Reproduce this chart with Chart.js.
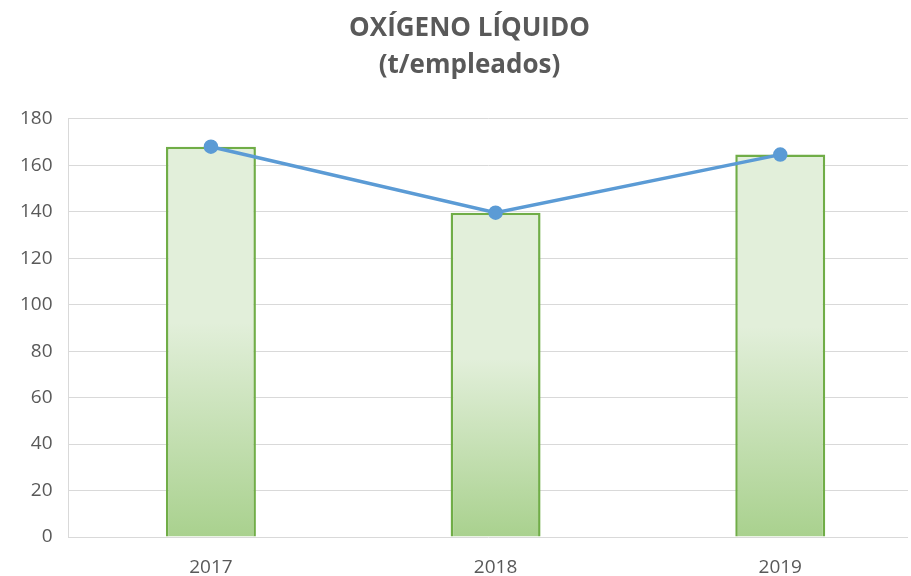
<!DOCTYPE html>
<html>
<head>
<meta charset="utf-8">
<script src="https://cdn.jsdelivr.net/npm/chart.js@4"></script>
<style>
    html, body { margin: 0; padding: 0; background: #fff; }
    #wrap { width: 911px; height: 576px; }
</style>
</head>
<body>
<div id="wrap"><canvas id="chart" width="911" height="576"></canvas></div>
<script>
const years = ['2017', '2018', '2019'];
const barValues = [168, 139.6, 164.6];
const lineValues = [168, 139.6, 164.6];
const yTicks = [0, 20, 40, 60, 80, 100, 120, 140, 160, 180];

// degradado por barra, de claro arriba a verde abajo
function barGradient(context) {
    const chart = context.chart;
    if (!chart.chartArea) return '#c5e0b4';
    const y = chart.scales.y;
    const top = y.getPixelForValue(context.raw);
    const bottom = y.getPixelForValue(0);
    const g = chart.ctx.createLinearGradient(0, top, 0, bottom);
    g.addColorStop(0, '#e2efda');
    g.addColorStop(0.45, '#e2efda');
    g.addColorStop(1, '#a9d18e');
    return g;
}

// el área de trazado del original sigue más allá del borde derecho
const widerPlot = {
    id: 'widerPlot',
    afterLayout(chart) {
        const area = chart.chartArea;
        area.right = chart.width - 3;
        area.width = area.right - area.left;
        const x = chart.scales.x;
        x.right = x.left + 854;
        x.width = x.right - x.left;
        x.configure();
        if (chart.titleBlock) chart.titleBlock.left += 24;
    }
};

new Chart(document.getElementById('chart'), {
    data: {
        labels: years,
        datasets: [
            {
                type: 'line',
                data: lineValues,
                borderColor: '#5b9bd5',
                backgroundColor: '#5b9bd5',
                borderWidth: 3.5,
                pointRadius: 5.5,
                pointHoverRadius: 5.5,
                tension: 0,
                order: 0
            },
            {
                type: 'bar',
                data: barValues,
                backgroundColor: barGradient,
                borderColor: '#70ad47',
                borderWidth: 2.5,
                categoryPercentage: 1,
                barPercentage: 0.316,
                order: 1
            }
        ]
    },
    options: {
        responsive: false,
        animation: false,
        layout: { padding: { left: 4, right: 0, top: 0, bottom: -22 } },
        plugins: {
            legend: { display: false },
            tooltip: { enabled: false },
            title: {
                display: true,
                text: ['OXÍGENO LÍQUIDO', '(t/empleados)'],
                color: '#595959',
                font: { family: 'Open Sans', size: 26, weight: 'bold', lineHeight: 1.42 },
                padding: { top: 10, bottom: 35 }
            }
        },
        scales: {
            x: {
                grid: { display: false, drawTicks: false },
                border: { display: false },
                ticks: {
                    color: '#595959',
                    font: { family: 'Open Sans', size: 19, lineHeight: 1 },
                    padding: 21
                }
            },
            y: {
                min: 0,
                max: 180,
                afterBuildTicks: axis => { axis.ticks = yTicks.map(v => ({ value: v })); },
                grid: { color: '#d9d9d9', lineWidth: 1, drawTicks: false },
                border: { display: true, color: '#d9d9d9' },
                ticks: {
                    color: '#595959',
                    font: { family: 'Open Sans', size: 19 },
                    padding: 16
                }
            }
        }
    },
    plugins: [widerPlot]
});
</script>
</body>
</html>
